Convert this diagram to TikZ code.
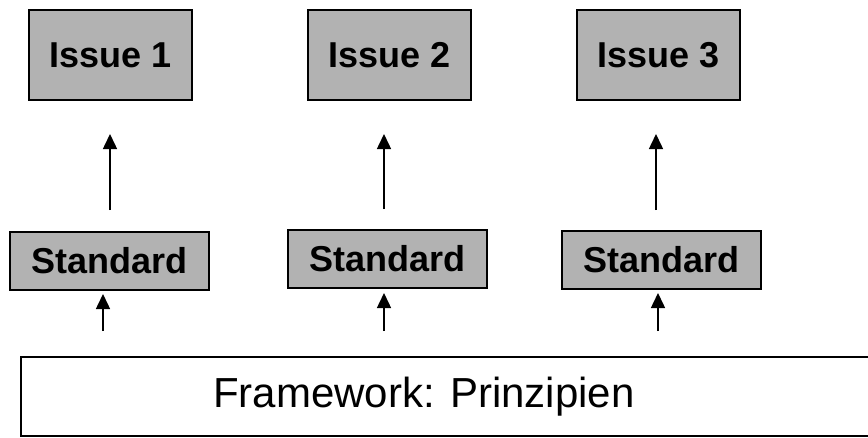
\documentclass[tikz,border=0pt]{standalone}
\usepackage{fontspec}
\setmainfont{Liberation Sans}
\usetikzlibrary{arrows.meta, positioning}
\definecolor{colBox}{RGB}{178,178,178}
\definecolor{colBorder}{RGB}{0,0,0}
\tikzset{
    issuebox/.style={rectangle, draw=colBorder, fill=colBox, line width=2pt,
        minimum width=163pt, minimum height=90pt, inner sep=0pt,
        font=\fontsize{36}{40}\selectfont\bfseries},
    stdbox/.style={rectangle, draw=colBorder, fill=colBox, line width=2pt,
        minimum width=199pt, minimum height=58pt, inner sep=0pt,
        font=\fontsize{36}{40}\selectfont\bfseries},
    framebox/.style={rectangle, draw=colBorder, line width=1.8pt,
        minimum width=880pt, minimum height=79pt, inner sep=0pt, anchor=west},
    arrow/.style={-{Triangle[length=15pt, width=14pt]}, line width=1.5pt}
}

\begin{document}
\begin{tikzpicture}[x=1pt, y=-1pt]

    \useasboundingbox (0,0) rectangle (868,437);

    \node[issuebox] (issue1) at (110.5,55) {Issue 1};
    \node[issuebox] (issue2) at (389.5,55) {Issue 2};
    \node[issuebox] (issue3) at (658.5,55) {Issue 3};

    \node[stdbox] (std1) at (109.5,261) {Standard};
    \node[stdbox] (std2) at (387.5,259) {Standard};
    \node[stdbox] (std3) at (661.5,260) {Standard};

    \node[framebox, label={[font=\fontsize{42}{46}\selectfont, xshift=-37pt]center:{Framework: Prinzipien}}] (framework) at (20,396.5) {};

    \draw[arrow, shorten <=21pt, shorten >=33pt] ([xshift=0.5pt]std1.north) -- ([xshift=-0.5pt]issue1.south);
    \draw[arrow, shorten <=20pt, shorten >=33pt] ([xshift=-3.5pt]std2.north) -- ([xshift=-5.5pt]issue2.south);
    \draw[arrow, shorten <=20pt, shorten >=33pt] ([xshift=-5.5pt]std3.north) -- ([xshift=-2.5pt]issue3.south);

    \draw[arrow, shorten <=25pt, shorten >=3pt] ([xshift=-6.5pt]std1.south |- framework.north) -- ([xshift=-6.5pt]std1.south);
    \draw[arrow, shorten <=25pt, shorten >=4pt] ([xshift=-3.5pt]std2.south |- framework.north) -- ([xshift=-3.5pt]std2.south);
    \draw[arrow, shorten <=25pt, shorten >=3pt] ([xshift=-3.5pt]std3.south |- framework.north) -- ([xshift=-3.5pt]std3.south);

\end{tikzpicture}
\end{document}
